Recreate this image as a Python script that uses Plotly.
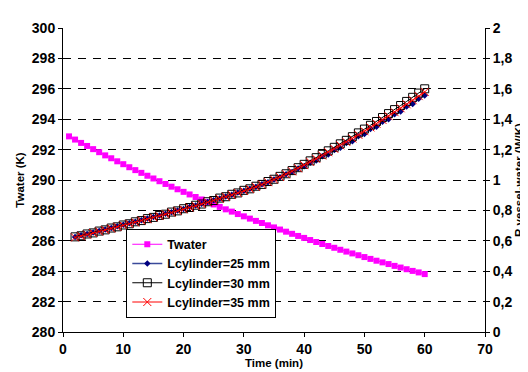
import plotly.graph_objects as go

# ---- data ----
t_water = list(range(1, 61))
T_water = [292.87, 292.66, 292.44, 292.24, 292.03, 291.83, 291.62, 291.43, 291.23, 291.04,
           290.84, 290.65, 290.47, 290.28, 290.10, 289.92, 289.74, 289.56, 289.39, 289.22,
           289.05, 288.88, 288.72, 288.55, 288.39, 288.23, 288.07, 287.92, 287.76, 287.61,
           287.46, 287.31, 287.17, 287.02, 286.88, 286.74, 286.60, 286.46, 286.32, 286.19,
           286.05, 285.92, 285.79, 285.66, 285.54, 285.41, 285.29, 285.17, 285.05, 284.93,
           284.81, 284.69, 284.58, 284.47, 284.35, 284.24, 284.13, 284.02, 283.92, 283.81]

t_r = list(range(2, 61))
R_25 = [0.625, 0.636, 0.644, 0.655, 0.664, 0.675, 0.685, 0.695, 0.706, 0.715,
        0.726, 0.736, 0.746, 0.757, 0.767, 0.778, 0.788, 0.799, 0.810, 0.822,
        0.832, 0.844, 0.855, 0.867, 0.878, 0.892, 0.903, 0.917, 0.929, 0.943,
        0.955, 0.972, 0.985, 1.004, 1.018, 1.038, 1.052, 1.075, 1.090, 1.114,
        1.128, 1.156, 1.168, 1.198, 1.212, 1.243, 1.255, 1.288, 1.302, 1.336,
        1.350, 1.384, 1.399, 1.432, 1.450, 1.484, 1.500, 1.534, 1.556]
R_30 = [0.626, 0.633, 0.645, 0.652, 0.664, 0.672, 0.684, 0.692, 0.704, 0.712,
        0.725, 0.733, 0.746, 0.754, 0.767, 0.775, 0.789, 0.797, 0.811, 0.819,
        0.834, 0.842, 0.857, 0.865, 0.881, 0.890, 0.906, 0.915, 0.932, 0.942,
        0.959, 0.971, 0.990, 1.005, 1.024, 1.041, 1.062, 1.081, 1.103, 1.126,
        1.147, 1.169, 1.192, 1.215, 1.238, 1.261, 1.285, 1.310, 1.335, 1.360,
        1.385, 1.411, 1.437, 1.463, 1.490, 1.517, 1.544, 1.572, 1.600]
R_35 = [0.622, 0.630, 0.641, 0.651, 0.661, 0.671, 0.681, 0.692, 0.701, 0.712,
        0.721, 0.733, 0.742, 0.754, 0.763, 0.775, 0.785, 0.797, 0.807, 0.819,
        0.830, 0.842, 0.853, 0.865, 0.877, 0.890, 0.902, 0.915, 0.928, 0.941,
        0.955, 0.970, 0.986, 1.003, 1.020, 1.038, 1.057, 1.077, 1.098, 1.119,
        1.139, 1.161, 1.183, 1.205, 1.228, 1.250, 1.273, 1.297, 1.321, 1.346,
        1.370, 1.395, 1.420, 1.446, 1.472, 1.498, 1.525, 1.552, 1.579]

names = ["Twater", "Lcylinder=25 mm", "Lcylinder=30 mm", "Lcylinder=35 mm"]
x_ticks = [0, 10, 20, 30, 40, 50, 60, 70]
x_labels = ["0", "10", "20", "30", "40", "50", "60", "70"]
y_ticks = [280, 282, 284, 286, 288, 290, 292, 294, 296, 298, 300]
y_labels = ["280", "282", "284", "286", "288", "290", "292", "294", "296", "298", "300"]
y2_ticks = [0, 0.2, 0.4, 0.6, 0.8, 1, 1.2, 1.4, 1.6, 1.8, 2]
y2_labels = ["0", "0,2", "0,4", "0,6", "0,8", "1", "1,2", "1,4", "1,6", "1,8", "2"]

FONT = "Arial, 'Liberation Sans', sans-serif"
TICKFONT = dict(family=FONT, size=14, color="black")


def bold(labels):
    return ["<b>" + s + "</b>" for s in labels]


fig = go.Figure()
fig.add_trace(go.Scatter(x=t_water, y=T_water, name=names[0], mode="lines+markers",
                         line=dict(color="#FF00FF", width=1),
                         marker=dict(symbol="square", size=6, color="#FF00FF")))
fig.add_trace(go.Scatter(x=t_r, y=R_25, name=names[1], mode="lines+markers", yaxis="y2",
                         line=dict(color="#3a4a9a", width=1.5),
                         marker=dict(symbol="diamond", size=5, color="#000080")))
fig.add_trace(go.Scatter(x=t_r, y=R_30, name=names[2], mode="lines+markers", yaxis="y2",
                         line=dict(color="#000000", width=1),
                         marker=dict(symbol="square-open", size=8, color="#000000",
                                     line=dict(width=1, color="#000000"))))
fig.add_trace(go.Scatter(x=t_r, y=R_35, name=names[3], mode="lines+markers", yaxis="y2",
                         line=dict(color="#FF0000", width=1),
                         marker=dict(symbol="x-thin-open", size=8, color="#FF0000",
                                     line=dict(width=1, color="#FF0000"))))

fig.update_layout(
    width=528, height=372,
    margin=dict(l=55, r=40, t=15, b=42),
    paper_bgcolor="white", plot_bgcolor="white",
    font=dict(family=FONT, size=13, color="black"),
    showlegend=True,
    legend=dict(x=0.15, y=0.34, xanchor="left", yanchor="top",
                bgcolor="white", bordercolor="black", borderwidth=1,
                font=dict(family=FONT, size=12.5, color="black", weight="bold"),
                tracegroupgap=0, itemwidth=30),
    xaxis=dict(range=[0, 70], tickvals=x_ticks, ticktext=bold(x_labels),
               showgrid=False, zeroline=False,
               showline=True, linecolor="black", linewidth=1,
               ticks="outside", ticklen=4, tickcolor="black",
               tickfont=TICKFONT,
               title=dict(text="<b>Time (min)</b>", font=dict(family=FONT, size=11.5), standoff=3)),
    yaxis=dict(range=[280, 300], tickvals=y_ticks, ticktext=bold(y_labels),
               showgrid=True, gridcolor="black", gridwidth=1,
               griddash="8px,7px", zeroline=False,
               showline=True, linecolor="black", linewidth=1,
               ticks="outside", ticklen=4, tickcolor="black",
               tickfont=TICKFONT,
               title=dict(text="<b>Twater (K)</b>", font=dict(family=FONT, size=11.5), standoff=4)),
    yaxis2=dict(range=[0, 2], tickvals=y2_ticks, ticktext=bold(y2_labels),
                overlaying="y", side="right", showgrid=False,
                zeroline=False, showline=True, linecolor="black", linewidth=1,
                ticks="outside", ticklen=4, tickcolor="black",
                tickfont=TICKFONT,
                title=dict(text="<b>R vessel-water (W/K)</b>", font=dict(family=FONT, size=11.5), standoff=3)),
)

fig.write_html("out.html")
